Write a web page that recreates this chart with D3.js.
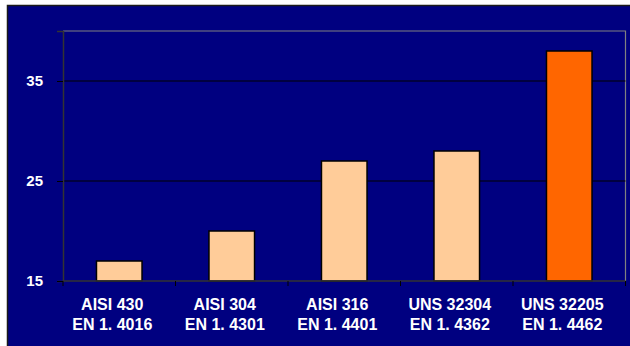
<!DOCTYPE html>
<html><head><meta charset="utf-8">
<script src="https://cdn.jsdelivr.net/npm/d3@7"></script>
<style>body{margin:0;background:#fff}svg{display:block}</style>
</head><body>
<script>
const categories = ["AISI 430|EN 1. 4016","AISI 304|EN 1. 4301","AISI 316|EN 1. 4401","UNS 32304|EN 1. 4362","UNS 32205|EN 1. 4462"];
const values = [17, 20, 27, 28, 38];
const barColors = ["#FFCC99","#FFCC99","#FFCC99","#FFCC99","#FF6600"];
const yTicks = [15, 25, 35];

const W = 630, H = 346;
const svg = d3.select("body").append("svg").attr("width", W).attr("height", H);
svg.append("rect").attr("x",7.5).attr("y",5.5).attr("width",W).attr("height",H)
  .attr("fill","#000080").attr("stroke","#1a1a1a").attr("stroke-width",1.5);

const m = {l:63, r:625.5, t:31, b:281};
const x = d3.scaleBand().domain(categories).range([m.l, m.r]).paddingInner(0.595).paddingOuter(0.2975);
const y = d3.scaleLinear().domain([15, 40]).range([m.b, m.t]);

svg.append("path").attr("d",`M${m.l},${m.t}H${m.r}V${m.b}`).attr("fill","none").attr("stroke","#808080").attr("stroke-width",1.2);

svg.append("g").selectAll("line").data(yTicks.filter(t=>t>15)).join("line")
  .attr("x1",m.l).attr("x2",m.r).attr("y1",d=>y(d)).attr("y2",d=>y(d))
  .attr("stroke","#000").attr("stroke-width",1);

svg.append("g").selectAll("rect").data(values).join("rect")
  .attr("x",(d,i)=>x(categories[i])).attr("width",x.bandwidth())
  .attr("y",d=>y(d)).attr("height",d=>y(15)-y(d))
  .attr("fill",(d,i)=>barColors[i]).attr("stroke","#000").attr("stroke-width",1.5);

const ya = svg.append("g").attr("transform",`translate(${m.l},0)`)
  .call(d3.axisLeft(y).tickValues(yTicks).tickSize(6).tickFormat(d3.format("d")));
ya.select(".domain").attr("stroke","#333").attr("stroke-width",1.5);
ya.selectAll(".tick line").attr("stroke","#000");
ya.selectAll(".tick text").attr("x",-20).attr("fill","#fff")
  .style("font","bold 15px 'Liberation Sans', Arial, sans-serif");

const step = x.step();
const xa = svg.append("g").attr("transform",`translate(0,${m.b})`);
xa.append("line").attr("x1",m.l).attr("x2",m.r).attr("stroke","#333").attr("stroke-width",1.5);
const edges = d3.range(categories.length+1).map(i=>m.l + i*step);
xa.selectAll("line.t").data(edges).join("line").attr("class","t")
  .attr("x1",d=>d).attr("x2",d=>d).attr("y1",0).attr("y2",5).attr("stroke","#000");
const lbl = xa.selectAll("text").data(categories).join("text")
  .attr("fill","#fff").attr("text-anchor","middle")
  .style("font","bold 16px 'Liberation Sans', Arial, sans-serif");
lbl.each(function(d){
  const cx = x(d) + x.bandwidth()/2 - 7;
  const parts = d.split("|");
  d3.select(this).selectAll("tspan").data(parts).join("tspan")
    .attr("x",cx).attr("y",(p,i)=>28.5+i*20).text(p=>p);
});
</script>
</body></html>
